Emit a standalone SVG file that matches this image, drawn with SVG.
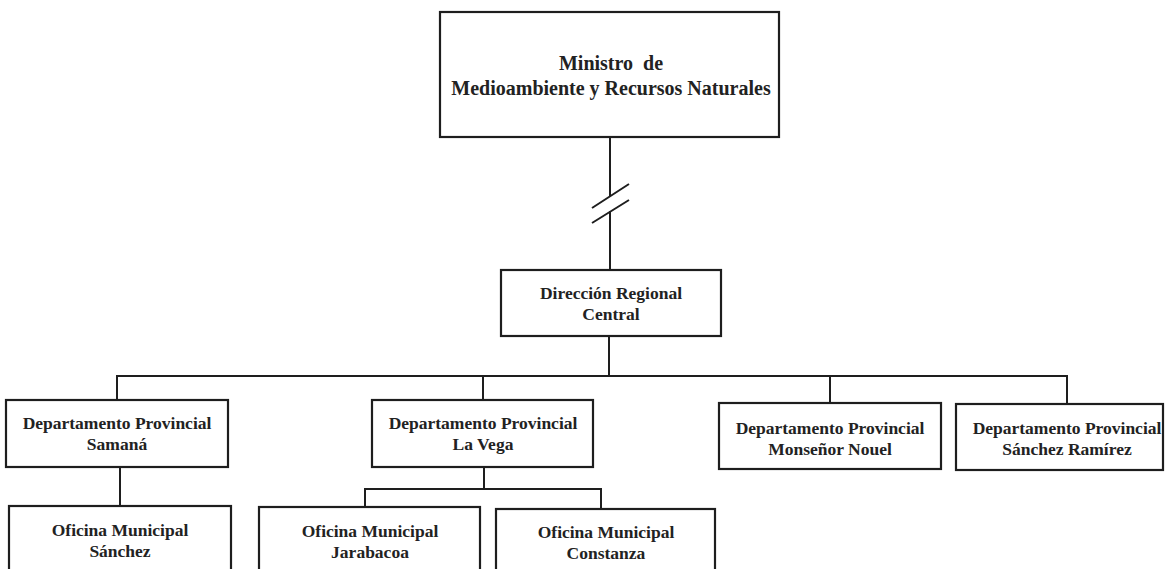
<svg xmlns="http://www.w3.org/2000/svg" width="1165" height="569" viewBox="0 0 1165 569">
<style>
.box{fill:#fff;stroke:#1e1e1e;stroke-width:2.2}
.ln{fill:none;stroke:#1e1e1e;stroke-width:2}
text{font-family:"Liberation Serif","Times New Roman",serif;font-weight:bold;fill:#222;text-anchor:middle;font-size:17.5px}
.big{font-size:20px}
</style>
<rect width="1165" height="569" fill="#fff"/>
<g id="connectors">
<path class="ln" d="M610,137 V196 M610,211 V270"/>
<path class="ln" d="M592,208 L629,184 M592,223 L629,200"/>
<path class="ln" d="M609,336 V376 M117,400 V376 H1067 V404 M483,376 V400 M830,376 V403"/>
<path class="ln" d="M120,467 V506"/>
<path class="ln" d="M484,467 V489 M365,507 V489 H601 V509"/>
</g>
<g id="ministro">
<rect class="box" x="440" y="12" width="339" height="125"/>
<text class="big" x="611" y="70" xml:space="preserve">Ministro  de</text>
<text class="big" x="611" y="95">Medioambiente y Recursos Naturales</text>
</g>
<g id="regional">
<rect class="box" x="501" y="270" width="220" height="66"/>
<text x="611" y="299">Dirección Regional</text>
<text x="611" y="320">Central</text>
</g>
<g id="samana">
<rect class="box" x="6" y="400" width="222" height="67"/>
<text x="117" y="429">Departamento Provincial</text>
<text x="117" y="450">Samaná</text>
</g>
<g id="lavega">
<rect class="box" x="372" y="400" width="221" height="67"/>
<text x="483" y="429">Departamento Provincial</text>
<text x="483" y="450">La Vega</text>
</g>
<g id="monsenor">
<rect class="box" x="719" y="403" width="222" height="66"/>
<text x="830" y="434">Departamento Provincial</text>
<text x="830" y="455">Monseñor Nouel</text>
</g>
<g id="sanchezramirez">
<rect class="box" x="956" y="404" width="207" height="66"/>
<text x="1067" y="434">Departamento Provincial</text>
<text x="1067" y="455">Sánchez Ramírez</text>
</g>
<g id="sanchez">
<rect class="box" x="9" y="506" width="222" height="80"/>
<text x="120" y="536">Oficina Municipal</text>
<text x="120" y="557">Sánchez</text>
</g>
<g id="jarabacoa">
<rect class="box" x="259" y="507" width="221" height="80"/>
<text x="370" y="537">Oficina Municipal</text>
<text x="370" y="558">Jarabacoa</text>
</g>
<g id="constanza">
<rect class="box" x="496" y="509" width="219" height="80"/>
<text x="606" y="538">Oficina Municipal</text>
<text x="606" y="559">Constanza</text>
</g>
</svg>
